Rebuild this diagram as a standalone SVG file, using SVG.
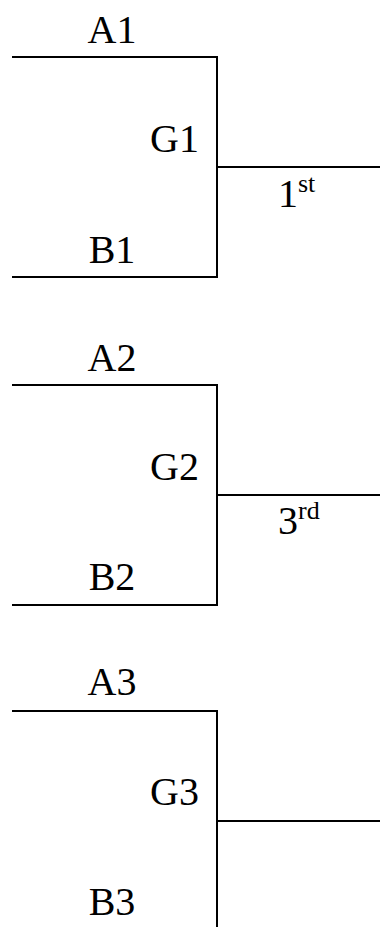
<svg xmlns="http://www.w3.org/2000/svg" width="380" height="927" viewBox="0 0 380 927">
<style>
.t{font-family:"Liberation Serif","Times New Roman",serif;font-size:40px;fill:#000}
.c{text-anchor:middle}
.e{text-anchor:end}
.sup{font-size:26px}
.ln{fill:none;stroke:#000;stroke-width:2}
</style>
<rect width="380" height="927" fill="#fff"/>
<g id="connectors">
<path class="ln" d="M12 57H217V277H12M217 167H380"/>
<path class="ln" d="M12 385H217V605H12M217 495H380"/>
<path class="ln" d="M12 711H217V927M217 821H380"/>
</g>
<g id="A1"><text class="t c" x="112" y="43">A1</text></g>
<g id="G1"><text class="t e" x="199" y="152">G1</text></g>
<g id="B1"><text class="t c" x="112" y="263">B1</text></g>
<g id="R1"><text class="t" x="278" y="207">1<tspan class="sup" dy="-15">st</tspan></text></g>
<g id="A2"><text class="t c" x="112" y="371">A2</text></g>
<g id="G2"><text class="t e" x="199" y="480">G2</text></g>
<g id="B2"><text class="t c" x="112" y="590">B2</text></g>
<g id="R2"><text class="t" x="278" y="534">3<tspan class="sup" dy="-15">rd</tspan></text></g>
<g id="A3"><text class="t c" x="112" y="695">A3</text></g>
<g id="G3"><text class="t e" x="199" y="805">G3</text></g>
<g id="B3"><text class="t c" x="112" y="915">B3</text></g>
</svg>
